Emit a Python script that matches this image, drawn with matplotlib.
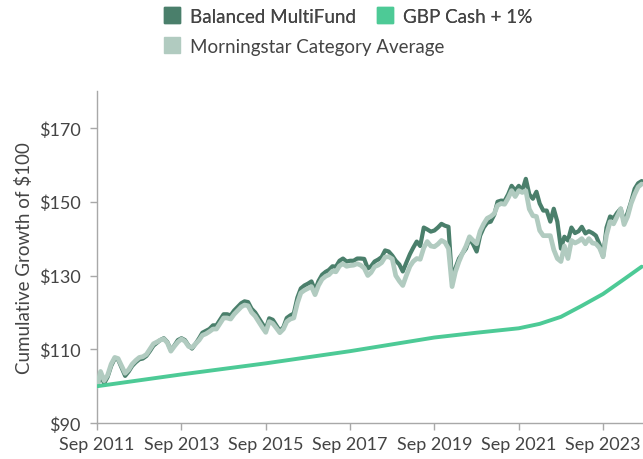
import matplotlib
matplotlib.use("Agg")
import matplotlib.pyplot as plt
import matplotlib.dates as mdates
from matplotlib.lines import Line2D
from matplotlib.ticker import FuncFormatter
import pandas as pd

plt.rcParams['font.family'] = ['Lato', 'DejaVu Sans']

# month-end growth of $100 for the fund and its peer group
months = [
    "2011-09", "2011-10", "2011-11", "2011-12", "2012-01", "2012-02", "2012-03", "2012-04",
    "2012-05", "2012-06", "2012-07", "2012-08", "2012-09", "2012-10", "2012-11", "2012-12",
    "2013-01", "2013-02", "2013-03", "2013-04", "2013-05", "2013-06", "2013-07", "2013-08",
    "2013-09", "2013-10", "2013-11", "2013-12", "2014-01", "2014-02", "2014-03", "2014-04",
    "2014-05", "2014-06", "2014-07", "2014-08", "2014-09", "2014-10", "2014-11", "2014-12",
    "2015-01", "2015-02", "2015-03", "2015-04", "2015-05", "2015-06", "2015-07", "2015-08",
    "2015-09", "2015-10", "2015-11", "2015-12", "2016-01", "2016-02", "2016-03", "2016-04",
    "2016-05", "2016-06", "2016-07", "2016-08", "2016-09", "2016-10", "2016-11", "2016-12",
    "2017-01", "2017-02", "2017-03", "2017-04", "2017-05", "2017-06", "2017-07", "2017-08",
    "2017-09", "2017-10", "2017-11", "2017-12", "2018-01", "2018-02", "2018-03", "2018-04",
    "2018-05", "2018-06", "2018-07", "2018-08", "2018-09", "2018-10", "2018-11", "2018-12",
    "2019-01", "2019-02", "2019-03", "2019-04", "2019-05", "2019-06", "2019-07", "2019-08",
    "2019-09", "2019-10", "2019-11", "2019-12", "2020-01", "2020-02", "2020-03", "2020-04",
    "2020-05", "2020-06", "2020-07", "2020-08", "2020-09", "2020-10", "2020-11", "2020-12",
    "2021-01", "2021-02", "2021-03", "2021-04", "2021-05", "2021-06", "2021-07", "2021-08",
    "2021-09", "2021-10", "2021-11", "2021-12", "2022-01", "2022-02", "2022-03", "2022-04",
    "2022-05", "2022-06", "2022-07", "2022-08", "2022-09", "2022-10", "2022-11", "2022-12",
    "2023-01", "2023-02", "2023-03", "2023-04", "2023-05", "2023-06", "2023-07", "2023-08",
    "2023-09", "2023-10", "2023-11", "2023-12", "2024-01", "2024-02", "2024-03", "2024-04",
    "2024-05", "2024-06", "2024-07", "2024-08",
]

fund = [
    100.0, 103.0, 100.8, 102.5, 105.5, 107.5, 107.2, 105.0,
    102.8, 104.0, 105.5, 106.5, 107.3, 107.5, 108.2, 109.5,
    111.0, 111.8, 112.5, 113.0, 112.0, 109.8, 111.0, 112.5,
    113.0, 112.5, 111.0, 110.2, 111.5, 113.0, 114.5, 115.0,
    115.5, 116.5, 116.5, 118.0, 119.5, 119.5, 119.2, 120.5,
    121.5, 122.5, 123.0, 122.8, 121.0, 120.0, 118.5, 117.0,
    115.5, 118.4, 118.0, 116.5, 115.0, 116.0, 118.5, 119.2,
    119.7, 124.0, 126.5, 127.3, 127.8, 128.4, 126.0, 128.5,
    130.2, 131.0, 131.5, 132.5, 132.4, 134.0, 134.6, 133.8,
    134.0, 134.0, 134.6, 134.6, 134.5, 131.9, 132.5, 133.8,
    134.3, 135.0, 136.8, 136.5, 135.4, 134.0, 133.0, 131.1,
    133.5, 135.8, 137.5, 139.2, 138.0, 143.0, 142.5, 141.9,
    142.2, 143.0, 144.0, 143.5, 143.2, 128.4, 132.0, 134.6,
    136.0, 137.3, 140.0, 138.5, 136.5, 140.8, 143.0, 144.3,
    144.6, 146.5, 150.0, 150.3, 150.2, 152.0, 154.3, 153.0,
    154.3, 153.0, 156.2, 152.0, 150.8, 152.7, 149.5, 147.6,
    147.6, 144.6, 148.1, 144.6, 137.3, 140.5, 139.5, 143.0,
    141.5, 142.0, 143.2, 141.4, 142.0, 141.5, 140.8, 138.5,
    135.1, 143.0, 146.0, 145.5, 147.0, 148.1, 144.5, 147.0,
    150.0, 153.5, 155.0, 155.6,
]

category = [
    100.0, 104.0, 101.5, 103.0, 106.0, 107.8, 107.5, 105.5,
    103.5, 104.5, 106.0, 107.0, 107.8, 108.0, 108.6, 110.0,
    111.5, 112.0, 112.5, 112.8, 111.8, 109.5, 110.8, 112.0,
    112.8, 112.2, 110.8, 110.5, 111.5, 112.5, 113.8, 114.2,
    114.8, 115.5, 115.5, 117.0, 118.5, 118.5, 118.2, 119.5,
    120.5, 121.5, 122.0, 121.8, 120.0, 119.0, 117.5, 116.0,
    114.6, 117.5, 117.0, 115.8, 114.5, 115.5, 117.5, 118.2,
    118.5, 122.5, 125.3, 126.0, 126.5, 127.0, 124.8, 127.3,
    129.0, 129.8, 130.2, 131.2, 131.0, 132.6, 133.2, 132.5,
    132.7, 132.8, 133.2, 132.8, 132.0, 130.0, 130.8, 132.4,
    132.8, 133.5, 135.0, 135.1, 134.5, 130.0, 128.5, 127.3,
    130.0, 132.5, 133.8, 134.6, 134.4, 137.5, 139.2, 138.0,
    137.8, 138.5, 139.5, 139.0, 137.3, 127.0, 131.0, 133.8,
    136.0, 138.0, 140.5, 139.5, 138.6, 142.0, 144.0, 145.5,
    146.0, 146.8, 149.0, 149.5, 149.3, 151.0, 153.0, 151.4,
    153.0, 152.5, 153.0, 148.0, 146.2, 146.0, 142.2, 140.8,
    140.8, 140.8, 137.0, 134.6, 133.8, 138.0, 134.6, 139.5,
    138.8, 139.3, 140.0, 138.6, 140.0, 138.8, 138.6, 137.5,
    135.1, 141.0, 144.6, 144.0, 146.0, 148.1, 143.8, 146.0,
    149.5, 152.0, 154.0, 154.8,
]

cash_months = ["2011-09", "2013-09", "2015-09", "2017-09", "2019-09", "2020-09",
               "2021-09", "2022-03", "2022-09", "2023-03", "2023-09", "2024-03", "2024-08"]
cash = [100.0, 103.2, 106.2, 109.5, 113.2, 114.5, 115.7, 116.9, 118.8, 121.8, 125.0, 129.0, 132.4]

dates = pd.to_datetime(months)
cash_dates = pd.to_datetime(cash_months)

c_fund = "#4a7f6b"
c_cash = "#4dca96"
c_cat = "#b1cbc0"
c_text = "#444444"
c_axis = "#a8a8a8"

fig = plt.figure(figsize=(6.43, 4.6), dpi=100)
ax = fig.add_axes([0.151, 0.078, 0.849, 0.722])

ax.plot(dates, fund, color=c_fund, lw=3.0, solid_joinstyle='round', solid_capstyle='round', zorder=2)
ax.plot(dates, category, color=c_cat, lw=3.4, solid_joinstyle='round', solid_capstyle='round', zorder=3)
ax.plot(cash_dates, cash, color=c_cash, lw=2.8, solid_joinstyle='round', solid_capstyle='round', zorder=4)

ax.set_ylim(90, 180)
ax.set_yticks([90, 110, 130, 150, 170])
ax.yaxis.set_major_formatter(FuncFormatter(lambda v, p: f"${v:.0f}"))
ax.set_xlim(pd.Timestamp("2011-09-01"), pd.Timestamp("2024-08-12"))
ax.set_xticks(pd.to_datetime([f"{y}-09-01" for y in range(2011, 2024, 2)]))
ax.xaxis.set_major_formatter(mdates.DateFormatter("Sep %Y"))

for side in ("top", "right"):
    ax.spines[side].set_visible(False)
for side in ("left", "bottom"):
    ax.spines[side].set_color(c_axis)
    ax.spines[side].set_linewidth(1.0)
ax.tick_params(color=c_axis, length=5, width=1)
ax.tick_params(labelcolor=c_text, labelsize=13)
ax.tick_params(axis='y', pad=7)
ax.tick_params(axis='x', pad=4)
ax.set_ylabel("Cumulative Growth of $100", fontsize=13.5, color=c_text, labelpad=4)


def square(color):
    return Line2D([], [], ls='none', marker='s', markersize=12, color=color)


# top row: fund and cash side by side; second row: peer group on its own
leg_top = fig.legend([square(c_fund), square(c_cash)], ["Balanced MultiFund", "GBP Cash + 1%"],
                     loc='upper left', bbox_to_anchor=(0.235, 1.005), ncol=2, frameon=False,
                     fontsize=13.5, labelcolor=c_text, handletextpad=0.5, columnspacing=1.0,
                     handlelength=1.0, borderaxespad=0.2)
fig.add_artist(leg_top)
fig.legend([square(c_cat)], ["Morningstar Category Average"],
           loc='upper left', bbox_to_anchor=(0.235, 0.94), frameon=False,
           fontsize=13.5, labelcolor=c_text, handletextpad=0.5, handlelength=1.0,
           borderaxespad=0.2)

fig.savefig("out.png", dpi=100)
